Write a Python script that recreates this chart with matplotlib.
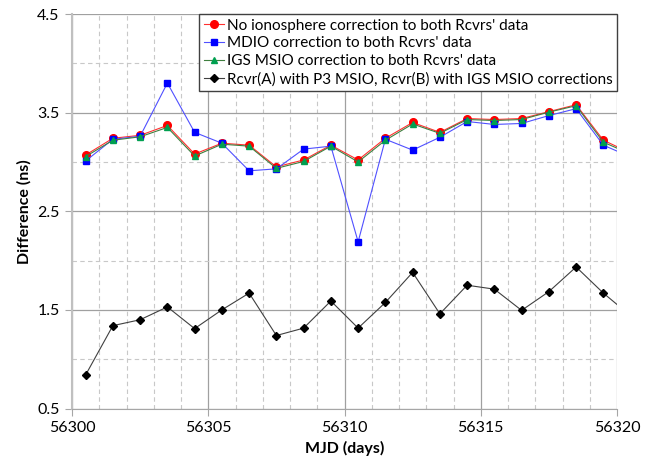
import numpy as np
import matplotlib
matplotlib.use('Agg')
import matplotlib.pyplot as plt
from matplotlib.ticker import MultipleLocator, FixedLocator

plt.rcParams['font.family'] = ['Lato', 'DejaVu Sans']

# MJD of each daily point (last one runs off the right edge)
mjd = np.arange(56300.5, 56321.0, 1.0)

no_iono = [3.07, 3.24, 3.27, 3.37, 3.08, 3.19, 3.17, 2.95, 3.02, 3.17, 3.02,
           3.24, 3.40, 3.30, 3.44, 3.43, 3.44, 3.51, 3.58, 3.22, 3.09]
mdio = [3.01, 3.23, 3.26, 3.80, 3.30, 3.19, 2.91, 2.93, 3.13, 3.16, 2.19,
        3.23, 3.12, 3.25, 3.41, 3.38, 3.39, 3.47, 3.54, 3.17, 3.05]
igs_msio = [3.055, 3.22, 3.255, 3.35, 3.06, 3.18, 3.16, 2.935, 3.005, 3.16, 3.0,
            3.22, 3.385, 3.29, 3.43, 3.42, 3.43, 3.505, 3.57, 3.20, 3.08]
p3_igs = [0.84, 1.34, 1.40, 1.53, 1.31, 1.50, 1.67, 1.24, 1.315, 1.59, 1.315,
          1.575, 1.88, 1.46, 1.75, 1.71, 1.495, 1.685, 1.935, 1.67, 1.44]

labels = ["No ionosphere correction to both Rcvrs' data",
          "MDIO correction to both Rcvrs' data",
          "IGS MSIO correction to both Rcvrs' data",
          "Rcvr(A) with P3 MSIO, Rcvr(B) with IGS MSIO corrections"]

fig = plt.figure(figsize=(6.65, 4.61), dpi=100)
ax = fig.add_axes([72 / 665, 52.5 / 461, 545 / 665, 394.5 / 461])

ax.plot(mjd, no_iono, color='#ff3030', lw=0.8, marker='o', ms=5.5,
        mfc='#ff0000', mec='#ff0000', label=labels[0])
ax.plot(mjd, mdio, color='#5050ff', lw=0.8, marker='s', ms=4.2,
        mfc='#0000ff', mec='#0000ff', label=labels[1])
ax.plot(mjd, igs_msio, color='#3f7f3f', lw=0.8, marker='^', ms=4.5,
        mfc='#00a050', mec='#00a050', label=labels[2])
ax.plot(mjd, p3_igs, color='#404040', lw=0.8, marker='D', ms=4.3,
        mfc='#000000', mec='#000000', label=labels[3])

ax.set_xlim(56300, 56320)
ax.set_ylim(0.5, 4.5)
ax.xaxis.set_major_locator(MultipleLocator(5))
ax.xaxis.set_minor_locator(MultipleLocator(1))
ax.yaxis.set_major_locator(FixedLocator([0.5, 1.5, 2.5, 3.5, 4.5]))
ax.yaxis.set_minor_locator(FixedLocator([1.0, 2.0, 3.0, 4.0]))
ax.grid(which='major', color='#a0a0a0', lw=0.9, ls='-')
ax.grid(which='minor', color='#c8c8c8', lw=0.8, ls=(0, (4, 3)))
ax.set_axisbelow(True)

for side in ['top', 'right']:
    ax.spines[side].set_visible(False)
for side in ['left', 'bottom']:
    ax.spines[side].set_color('#a6a6a6')
ax.spines['left'].set_color('#c0c0c0')
ax.spines['left'].set_linewidth(1.5)
ax.tick_params(which='major', length=5, color='#a6a6a6', labelsize=11.5, pad=4)
ax.tick_params(which='minor', length=0)

ax.set_xlabel('MJD (days)', fontsize=11.5, fontweight='bold', labelpad=4)
ax.set_ylabel('Difference (ns)', fontsize=11.5, fontweight='bold', labelpad=4)

leg = ax.legend(loc='upper right', fontsize=11, frameon=True, fancybox=False,
                borderaxespad=0, handlelength=1.3, handletextpad=0.2,
                labelspacing=0.25, borderpad=0.3)
leg.get_frame().set_edgecolor('#404040')
leg.get_frame().set_linewidth(1.0)
leg.get_frame().set_alpha(1)

fig.savefig('out.png', dpi=100)
